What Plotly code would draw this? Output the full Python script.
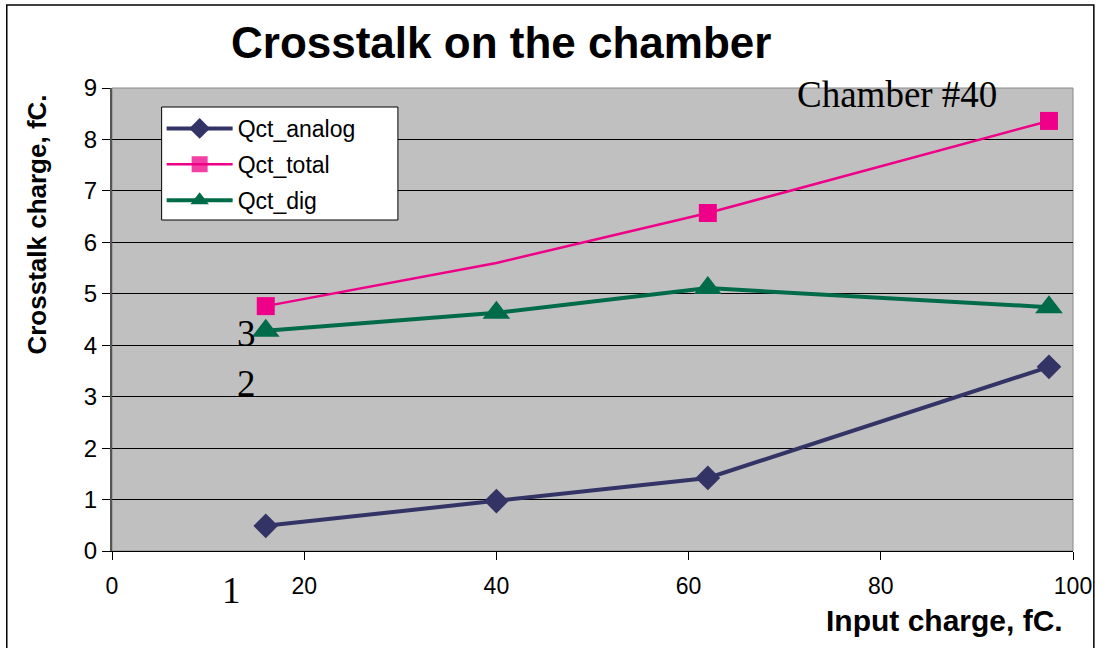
import plotly.graph_objects as go

# input charge, fC.
input_charge = [16, 40, 62, 97.5]

# crosstalk charge, fC.
qct_analog = [0.49, 0.97, 1.42, 3.58]
qct_total = [4.76, 5.60, 6.57, 8.36]
qct_dig = [4.28, 4.63, 5.11, 4.74]

series = [
    ("Qct_analog", qct_analog, "#333366", "diamond", 19, 4),
    ("Qct_total", qct_total, "#ee0088", "square", 18, 2.5),
    ("Qct_dig", qct_dig, "#006b48", "triangle-up", 24, 4),
]

# page position of the plot area (body margin removed in the html)
W, H = 1104, 648
PX0, PX1, PY0, PY1 = 112, 1080, 88, 551


def px(x):
    return (x - PX0) / (PX1 - PX0)


def py(y):
    return (PY1 - y) / (PY1 - PY0)


fig = go.Figure()
for name, vals, color, symbol, size, width in series:
    opac = [1] * len(vals)
    if name == "Qct_total":
        opac[1] = 0  # no marker at 40 fC in the original
    fig.add_trace(go.Scatter(
        x=input_charge, y=vals, name=name, mode="lines+markers", legendgroup=name,
        line=dict(color=color, width=width),
        marker=dict(symbol=symbol, size=size, color=color, opacity=opac),
    ))

fig.update_layout(
    width=W, height=H,
    margin=dict(l=PX0, r=W - PX1, t=PY0, b=H - PY1),
    paper_bgcolor="white",
    plot_bgcolor="#c0c0c0",
    font=dict(family="Liberation Sans, Arial", size=24, color="black"),
    showlegend=True,
    legend=dict(
        x=px(162), y=py(107), xanchor="left", yanchor="top",
        bgcolor="rgba(0,0,0,0)", borderwidth=0,
        font=dict(size=23), itemwidth=66, traceorder="grouped", tracegroupgap=3,
    ),
)

fig.update_xaxes(
    range=[0, 100], tick0=0, dtick=20, showgrid=False, zeroline=False,
    showline=True, linecolor="black", linewidth=1,
    ticks="outside", ticklen=8, tickcolor="black",
    ticklabelstandoff=6, tickfont=dict(size=23),
)
fig.update_yaxes(
    range=[0, 9], tick0=0, dtick=1, showgrid=True, gridcolor="black", gridwidth=1,
    zeroline=False, showline=True, linecolor="#555555", linewidth=2,
    ticks="outside", ticklen=8, tickcolor="black",
)

# gray frame round the plot area, legend box and black frame round the chart
fig.add_shape(type="rect", xref="paper", yref="paper", x0=0, x1=1, y0=0, y1=1,
              line=dict(color="#888888", width=1), layer="below")
fig.add_shape(type="rect", xref="paper", yref="paper",
              x0=px(162), x1=px(400), y0=py(220), y1=py(107),
              fillcolor="white", line=dict(color="black", width=1), layer="above")
fig.add_shape(type="rect", xref="paper", yref="paper",
              x0=px(6), x1=px(1101), y0=py(700), y1=py(5),
              line=dict(color="black", width=1.5))

mid = dict(xref="paper", yref="paper", showarrow=False, xanchor="center", yanchor="middle")
fig.add_annotation(text="<b>Crosstalk on the chamber</b>", x=px(504), y=py(42),
                   font=dict(size=44), **mid)
fig.add_annotation(text="<b>Crosstalk charge, fC.</b>", x=px(36), y=py(225),
                   textangle=-90, font=dict(size=26), **mid)
fig.add_annotation(text="<b>Input charge, fC.</b>", x=px(951), y=py(620),
                   font=dict(size=30), **mid)

serif = dict(family="Liberation Serif, Times New Roman", size=37, color="black")
fig.add_annotation(text="Chamber #40", x=px(903), y=py(95), font=serif, **mid)
for label, lx, ly in [("3", 247, 333), ("2", 247, 383), ("1", 232, 590)]:
    fig.add_annotation(text=label, x=px(lx), y=py(ly), font=serif, **mid)

fig.write_html("out.html", config={"displayModeBar": False},
               post_script="document.body.style.margin = '0';")
